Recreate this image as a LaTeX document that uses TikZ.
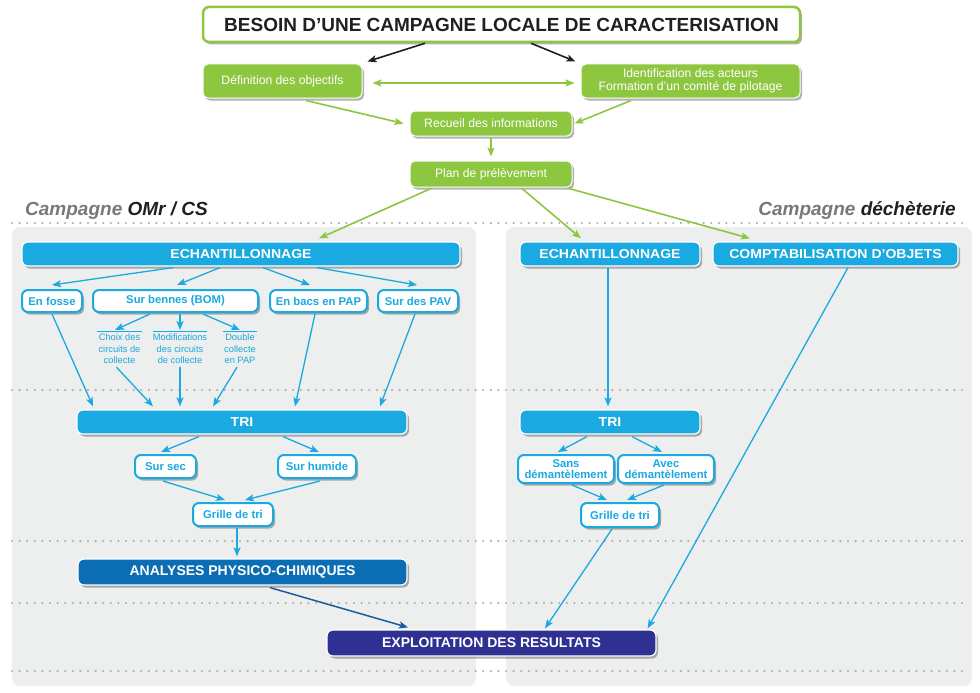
\documentclass[tikz,border=0pt]{standalone}
\usepackage{fontspec}
\setmainfont{Liberation Sans}
\newfontfamily\widefont[FakeStretch=1.08]{Liberation Sans}
\usetikzlibrary{arrows.meta,shadows,calc}
\definecolor{vert}{HTML}{8DC63F}
\definecolor{cyanb}{HTML}{1AA9E0}
\definecolor{bleuf}{HTML}{0B6DB3}
\definecolor{flecheb}{HTML}{1C5C9E}
\definecolor{marine}{HTML}{2E3192}
\definecolor{panneau}{HTML}{EDEEEE}
\definecolor{pointille}{HTML}{ADAFB2}
\definecolor{grisT}{HTML}{77787B}
\definecolor{noirT}{HTML}{231F20}
\begin{document}
\begin{tikzpicture}[x=1pt,y=-1pt,
 sz/.style 2 args={minimum width=#1pt,minimum height=#2pt},
 shd/.style={drop shadow={shadow xshift=2pt,shadow yshift=-2.5pt,fill=black,opacity=0.3}},
 titlebox/.style={draw=vert,line width=2.5pt,fill=white,rounded corners=6pt,shd,
   font=\bfseries\fontsize{19}{22}\selectfont,text=noirT,inner sep=0pt},
 greenbox/.style={fill=vert,draw=white,line width=1pt,rounded corners=5pt,shd,text=white,
   font=\fontsize{12.2}{13}\selectfont,align=center,inner sep=0pt},
 bigblue/.style={fill=cyanb,draw=white,line width=1.2pt,rounded corners=6pt,shd,text=white,
   font=\widefont\bfseries\fontsize{13}{15}\selectfont,inner sep=0pt},
 darkbox/.style={bigblue,font=\bfseries\fontsize{14}{16}\selectfont},
 smallbox/.style={fill=white,draw=cyanb,line width=2pt,rounded corners=6pt,shd,text=cyanb,
   font=\bfseries\fontsize{11.3}{12}\selectfont,align=center,inner sep=0pt},
 subitem/.style={text=cyanb,font=\fontsize{9.3}{11.5}\selectfont,align=center,inner sep=0pt,anchor=north},
 subline/.style={draw=cyanb,line width=1.6pt},
 garr/.style={draw=vert,line width=1.6pt,-{Stealth[length=9pt,width=7pt,inset=2pt]}},
 karr/.style={draw=noirT,line width=1.6pt,-{Stealth[length=9pt,width=7pt,inset=2pt]}},
 barr/.style={draw=cyanb,line width=1.3pt,-{Stealth[length=9pt,width=7pt,inset=2pt]}},
 darr/.style={draw=flecheb,line width=1.5pt,-{Stealth[length=9pt,width=7pt,inset=2pt]}},
 dots/.style={draw=pointille,line width=2.4pt,line cap=round,dash pattern=on 0pt off 7.6pt},
 header/.style={font=\bfseries\itshape\fontsize{19}{22}\selectfont,inner sep=0pt}
]
\useasboundingbox (0,0) rectangle (980,693);
% panels
\fill[panneau,rounded corners=8pt] (12,227) rectangle (476,686);
\fill[panneau,rounded corners=8pt] (506,227) rectangle (972,686);
% dotted lines
\foreach \yy in {223,390,541,603,671} \draw[dots] (12,\yy) -- (966,\yy);
% headers
\node[header,anchor=base west] (hl) at (25,215) {\textcolor{grisT}{Campagne} \textcolor{noirT}{OMr / CS}};
\node[header,anchor=base east] (hr) at (956,215) {\textcolor{grisT}{Campagne} \textcolor{noirT}{déchèterie}};
% top nodes
\node[titlebox,sz={597}{35}] (title) at (501.5,24.5) {BESOIN D’UNE CAMPAGNE LOCALE DE CARACTERISATION};
\node[greenbox,sz={159}{34}] (def) at (282.5,81) {Définition des objectifs};
\node[greenbox,sz={219}{34}] (ident) at (690.5,81) {Identification des acteurs\\Formation d’un comité de pilotage};
\node[greenbox,sz={162}{25}] (recueil) at (491,123.5) {Recueil des informations};
\node[greenbox,sz={162}{26}] (plan) at (491,174) {Plan de prélèvement};
% blue big nodes
\node[bigblue,sz={438}{24}] (echL) at (241,254) {ECHANTILLONNAGE};
\node[bigblue,sz={180}{24}] (echR) at (610,254) {ECHANTILLONNAGE};
\node[bigblue,sz={245}{24}] (compta) at (835.5,254) {COMPTABILISATION D’OBJETS};
\node[bigblue,sz={330}{24}] (triL) at (242,422) {TRI};
\node[bigblue,sz={180}{24}] (triR) at (610,422) {TRI};
\node[darkbox,fill=bleuf,sz={329}{26}] (analyses) at (242.5,572) {ANALYSES PHYSICO-CHIMIQUES};
\node[darkbox,fill=marine,sz={329}{26}] (exploit) at (491.5,643) {EXPLOITATION DES RESULTATS};
% small nodes
\node[smallbox,sz={60}{22}] (fosse) at (52,301) {En fosse};
\node[smallbox,sz={165}{22}] (bennes) at (175.5,301) {Sur bennes (BOM)};
\node[smallbox,sz={97}{22}] (bacs) at (318.5,301) {En bacs en PAP};
\node[smallbox,sz={80}{22}] (pav) at (418,301) {Sur des PAV};
\node[smallbox,sz={61}{23}] (sursec) at (165.5,466.5) {Sur sec};
\node[smallbox,sz={78}{23}] (surhum) at (317,466.5) {Sur humide};
\node[smallbox,sz={80}{23}] (grilleL) at (233,514.5) {Grille de tri};
\node[smallbox,sz={96}{28},font=\bfseries\fontsize{11.3}{11}\selectfont] (sans) at (566,469) {Sans\\démantèlement};
\node[smallbox,sz={96}{28},font=\bfseries\fontsize{11.3}{11}\selectfont] (avec) at (666,469) {Avec\\démantèlement};
\node[smallbox,sz={78}{24}] (grilleR) at (620,515) {Grille de tri};
% sub items
\node[subitem] (choix) at (119.5,334) {Choix des\\circuits de\\collecte};
\node[subitem] (modif) at (180,334) {Modifications\\des circuits\\de collecte};
\node[subitem] (double) at (240,334) {Double\\collecte\\en PAP};
\draw[subline] ([xshift=-22.5pt,yshift=2.5pt]choix.north) -- ([xshift=22.5pt,yshift=2.5pt]choix.north);
\draw[subline] ([xshift=-27pt,yshift=2.5pt]modif.north) -- ([xshift=27pt,yshift=2.5pt]modif.north);
\draw[subline] ([xshift=-17pt,yshift=2.5pt]double.north) -- ([xshift=17pt,yshift=2.5pt]double.north);
% black arrows
\draw[karr] ([xshift=-76.5pt]title.south) -- ([xshift=5pt,yshift=2pt]def.north east);
\draw[karr] ([xshift=29.5pt]title.south) -- ([xshift=-5pt,yshift=2pt]ident.north west);
% green arrows
\draw[draw=vert,line width=1.6pt,{Stealth[length=9pt,width=7pt,inset=2pt]}-{Stealth[length=9pt,width=7pt,inset=2pt]}] ([xshift=10pt,yshift=-2pt]def.east) -- ([xshift=-6pt,yshift=-2pt]ident.west);
\draw[garr] ([xshift=23.5pt,yshift=-2pt]def.south) -- ([xshift=-6pt]recueil.west);
\draw[garr] ([xshift=-59.5pt,yshift=-2pt]ident.south) -- ([xshift=2pt]recueil.east);
\draw[garr] ([yshift=-1pt]recueil.south) -- ([yshift=4pt]plan.north);
\draw[garr] ([xshift=-60pt,yshift=-1pt]plan.south) -- ([xshift=78pt,yshift=3pt]echL.north);
\draw[garr] ([xshift=31pt,yshift=-1pt]plan.south) -- ([xshift=-29pt,yshift=3pt]echR.north);
\draw[garr] ([xshift=78pt,yshift=-1pt]plan.south) -- ([xshift=-85.5pt,yshift=3pt]compta.north);
% blue arrows left
\draw[barr] ([xshift=-68pt,yshift=-1pt]echL.south) -- ([yshift=4pt]fosse.north);
\draw[barr] ([xshift=-21pt,yshift=-1pt]echL.south) -- ([xshift=1.5pt,yshift=4pt]bennes.north);
\draw[barr] ([xshift=22pt,yshift=-1pt]echL.south) -- ([xshift=-8.5pt,yshift=4pt]bacs.north);
\draw[barr] ([xshift=76pt,yshift=-1pt]echL.south) -- ([xshift=-1pt,yshift=4pt]pav.north);
\draw[barr] ([xshift=-25.5pt,yshift=-1pt]bennes.south) -- ([xshift=-4.5pt,yshift=4pt]choix.north);
\draw[barr] ([xshift=4.5pt,yshift=-1pt]bennes.south) -- ([yshift=4pt]modif.north);
\draw[barr] ([xshift=27.5pt,yshift=-1pt]bennes.south) -- ([xshift=0pt,yshift=4pt]double.north);
\draw[barr] ([yshift=-1pt]fosse.south) -- ([xshift=-149pt,yshift=3pt]triL.north);
\draw[barr] ([xshift=-3pt,yshift=-3pt]choix.south) -- ([xshift=-89pt,yshift=3pt]triL.north);
\draw[barr] ([yshift=-3pt]modif.south) -- ([xshift=-62pt,yshift=3pt]triL.north);
\draw[barr] ([xshift=-3pt,yshift=-3pt]double.south) -- ([xshift=-29pt,yshift=3pt]triL.north);
\draw[barr] ([xshift=-3.5pt,yshift=-1pt]bacs.south) -- ([xshift=53pt,yshift=3pt]triL.north);
\draw[barr] ([xshift=-3pt,yshift=-1pt]pav.south) -- ([xshift=138pt,yshift=3pt]triL.north);
\draw[barr] ([xshift=-43pt,yshift=-2pt]triL.south) -- ([xshift=-4.5pt,yshift=2pt]sursec.north);
\draw[barr] ([xshift=41pt,yshift=-2pt]triL.south) -- ([xshift=2pt,yshift=2pt]surhum.north);
\draw[barr] ([xshift=-2.5pt,yshift=-2pt]sursec.south) -- ([xshift=-8pt,yshift=2pt]grilleL.north);
\draw[barr] ([xshift=3pt,yshift=-2pt]surhum.south) -- ([xshift=12pt,yshift=2pt]grilleL.north);
\draw[barr] ([xshift=4pt,yshift=-1pt]grilleL.south) -- ([xshift=-5.5pt,yshift=2pt]analyses.north);
\draw[darr] ([xshift=27.5pt,yshift=-2pt]analyses.south) -- ([xshift=-83.5pt,yshift=2pt]exploit.north);
% blue arrows right
\draw[barr] ([xshift=-2pt,yshift=-1pt]echR.south) -- ([xshift=-2pt,yshift=3pt]triR.north);
\draw[barr] ([xshift=12.5pt,yshift=-1pt]compta.south) -- ([xshift=-9pt,yshift=1pt]exploit.north east);
\draw[barr] ([xshift=-23pt,yshift=-2pt]triR.south) -- ([xshift=-8pt,yshift=2pt]sans.north);
\draw[barr] ([xshift=22pt,yshift=-2pt]triR.south) -- ([xshift=-4pt,yshift=2pt]avec.north);
\draw[barr] ([xshift=6pt,yshift=-1pt]sans.south) -- ([xshift=-13pt,yshift=2pt]grilleR.north);
\draw[barr] ([xshift=-2pt,yshift=-1pt]avec.south) -- ([xshift=7pt,yshift=2pt]grilleR.north);
\draw[barr] ([xshift=-8pt,yshift=-1pt]grilleR.south) -- ([xshift=53.5pt,yshift=1pt]exploit.north);
\end{tikzpicture}
\end{document}
